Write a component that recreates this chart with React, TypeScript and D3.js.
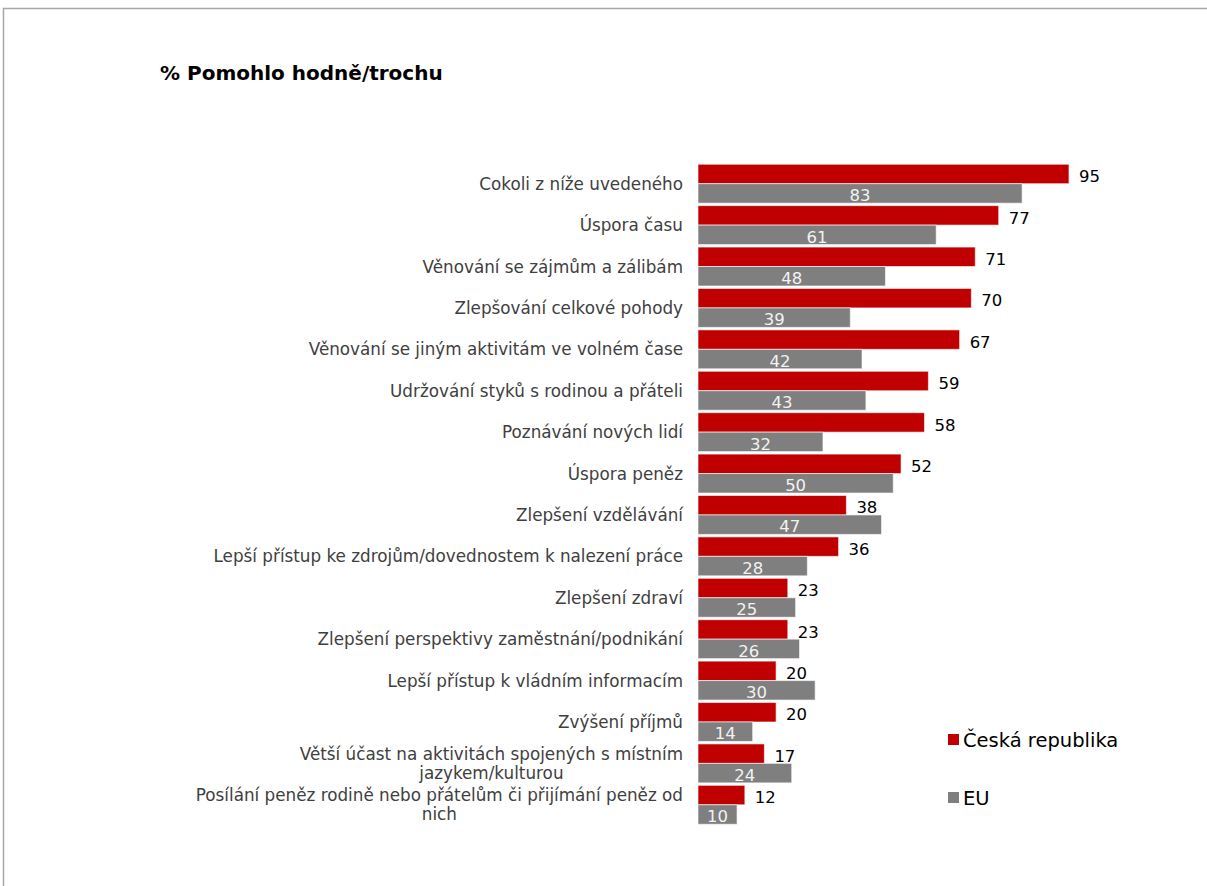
import * as d3 from "d3";

const categories = [
  "Cokoli z níže uvedeného",
  "Úspora času",
  "Věnování se zájmům a zálibám",
  "Zlepšování celkové pohody",
  "Věnování se jiným aktivitám ve volném čase",
  "Udržování styků s rodinou a přáteli",
  "Poznávání nových lidí",
  "Úspora peněz",
  "Zlepšení vzdělávání",
  "Lepší přístup ke zdrojům/dovednostem k nalezení práce",
  "Zlepšení zdraví",
  "Zlepšení perspektivy zaměstnání/podnikání",
  "Lepší přístup k vládním informacím",
  "Zvýšení příjmů",
  "Větší účast na aktivitách spojených s místním\njazykem/kulturou",
  "Posílání peněz rodině nebo přátelům či přijímání peněz od\nnich",
];

const czValues = [95, 77, 71, 70, 67, 59, 58, 52, 38, 36, 23, 23, 20, 20, 17, 12];
const euValues = [83, 61, 48, 39, 42, 43, 32, 50, 47, 28, 25, 26, 30, 14, 24, 10];

const seriesNames = ["Česká republika", "EU"];
const seriesColors = ["#C00000", "#7F7F7F"];

const title = "% Pomohlo hodně/trochu";

const W = 1207;
const H = 886;
const FONT = "'DejaVu Sans', Verdana, sans-serif";
const labelSize = 16.8;

let ctx: CanvasRenderingContext2D | null = null;
function textWidth(s: string, size: number) {
  if (!ctx) ctx = document.createElement("canvas").getContext("2d");
  if (!ctx) return s.length * size * 0.6;
  ctx.font = `${size}px 'DejaVu Sans'`;
  return ctx.measureText(s).width;
}

export default function App() {
  const x = d3.scaleLinear().domain([0, 100]).range([698, 698 + 390.5]);
  const y = d3
    .scaleBand<string>()
    .domain(categories)
    .range([163, 825.5])
    .paddingInner(0.06)
    .paddingOuter(0.03);
  const sub = d3.scaleBand<number>().domain([0, 1]).range([0, y.bandwidth()]);
  const labelRight = 683;

  const rows = categories.map((c, i) => ({ c, vals: [czValues[i], euValues[i]] }));

  return (
    <svg
      width={W}
      height={H}
      style={{ position: "absolute", left: 0, top: 0, fontFamily: FONT, background: "#fff" }}
    >
      <rect x={3.5} y={8.5} width={W + 10} height={H + 10} fill="#fff" stroke="#a6a6a6" strokeWidth={1.5} />
      <text x={160} y={80} fontSize={20} fontWeight="bold" fill="#000">
        {title}
      </text>

      {rows.map((r, i) => {
        const y0 = y(r.c)!;
        const cy = y0 + y.bandwidth() / 2;
        const lines = r.c.split("\n");
        const lh = 19;
        let labelEls;
        if (lines.length === 1) {
          labelEls = (
            <text x={labelRight} y={cy + 6} textAnchor="end" fontSize={labelSize} fill="#404040">
              {lines[0]}
            </text>
          );
        } else {
          const w0 = textWidth(lines[0], labelSize);
          const mid = labelRight - w0 / 2;
          labelEls = lines.map((l, k) => (
            <text
              key={k}
              x={mid}
              y={cy + 6 + (k - (lines.length - 1) / 2) * lh}
              textAnchor="middle"
              fontSize={labelSize}
              fill="#404040"
            >
              {l}
            </text>
          ));
        }
        return (
          <g key={i}>
            {labelEls}
            {r.vals.map((v, s) => {
              const by = y0 + sub(s)!;
              const bh = sub.bandwidth();
              const x0 = x(0);
              const x1 = x(v);
              return (
                <g key={s}>
                  <rect
                    x={x0}
                    y={by}
                    width={x1 - x0}
                    height={bh}
                    fill={seriesColors[s]}
                    stroke="#fff"
                    strokeOpacity={0.6}
                    strokeWidth={1}
                  />
                  {s === 0 ? (
                    <text x={x1 + 10} y={by + bh - 1.5} fontSize={16.5} fill="#000">
                      {v}
                    </text>
                  ) : (
                    <text
                      x={(x0 + x1) / 2}
                      y={by + bh - 2}
                      fontSize={16.5}
                      textAnchor="middle"
                      fill="#f2f2f2"
                    >
                      {v}
                    </text>
                  )}
                </g>
              );
            })}
          </g>
        );
      })}

      {seriesNames.map((n, s) => (
        <g key={n} transform={`translate(948, ${734 + s * 58})`}>
          <rect width={11} height={11} fill={seriesColors[s]} />
          <text x={15} y={12.5} fontSize={19.5} fill="#000">
            {n}
          </text>
        </g>
      ))}
    </svg>
  );
}
